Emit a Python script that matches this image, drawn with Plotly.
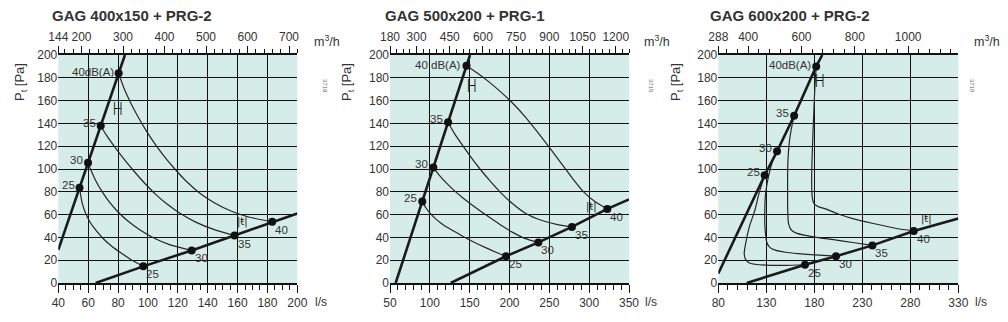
import plotly.graph_objects as go

# ---------------- DATA ----------------
TITLES = ["GAG 400x150 + PRG-2", "GAG 500x200 + PRG-1", "GAG 600x200 + PRG-2"]
CODES = ["3719", "3715", "3718"]
DB_LABELS_UP = ["25", "30", "35", "40dB(A)"]
DB_LABELS_UP_P2 = ["25", "30", "35", "40 dB(A)"]
DB_LABELS_LOW = ["25", "30", "35", "40"]

Y_RANGE = [0, 200]

# Panel 1
P1_X_RANGE = [40, 200]
P1_TOP_RANGE = [144, 720]
P1_TOP_TICKS = [144, 200, 300, 400, 500, 600, 700]
P1_UPPER_Q = [40, 54.2, 59.9, 68.4, 80.4, 84.6]
P1_UPPER_P = [29, 83.5, 105.4, 138, 184, 200]
P1_LOWER_Q = [65, 96.9, 129.3, 158, 183.2, 200]
P1_LOWER_P = [0, 14.6, 28.6, 41.6, 53.7, 61]
P1_C25_Q = [54.2, 56, 58, 61, 65, 70, 76, 83, 90, 96.9]
P1_C25_P = [83.5, 70, 62, 54, 46.5, 39, 32, 25.5, 19.5, 14.6]
P1_C30_Q = [59.9, 62, 65, 69, 74, 80, 87, 95, 104, 114, 129.3]
P1_C30_P = [105.4, 98.4, 90, 80.8, 71.3, 62.3, 53.9, 46.3, 39.5, 33.9, 28.6]
P1_C35_Q = [68.4, 72, 78, 84, 91, 98, 105, 113, 122, 132, 144, 158]
P1_C35_P = [138, 130.1, 118.9, 108.6, 97.6, 87.3, 78, 69, 60.7, 53.4, 47, 41.6]
P1_C40_Q = [80.4, 84, 88.5, 93, 98.5, 104, 110.5, 118, 126, 135, 145, 156, 168, 183.2]
P1_C40_P = [184, 170.8, 157.9, 146.7, 134.3, 123.3, 111.7, 100, 88.8, 78.6, 70, 62.9, 57.7, 53.7]
P1_SYM_UP = [79.3, 153.5]
P1_SYM_LOW = [163.6, 53.3]

# Panel 2
P2_X_RANGE = [50, 350]
P2_TOP_RANGE = [180, 1260]
P2_TOP_TICKS = [180, 300, 450, 600, 750, 900, 1050, 1200]
P2_UPPER_Q = [57.1, 90.5, 104.4, 122.9, 146, 150.4]
P2_UPPER_P = [0, 71.6, 101.4, 141, 190.6, 200]
P2_LOWER_Q = [126.2, 195.6, 236.2, 278.4, 322.8, 350]
P2_LOWER_P = [0, 23.5, 35.6, 49.2, 65, 73.3]
P2_C25_Q = [90.5, 95, 100, 107, 115, 125, 140, 155, 170, 183, 195.6]
P2_C25_P = [71.6, 66, 61.5, 56.5, 52, 47.5, 41.5, 36, 31, 27, 23.5]
P2_C30_Q = [104.4, 112, 120, 130, 142, 156, 172, 188, 204, 220, 236.2]
P2_C30_P = [101.4, 94.4, 88.2, 81.5, 74.4, 66.9, 58.9, 51.3, 44.4, 38.9, 35.6]
P2_C35_Q = [122.9, 131, 141.8, 152, 163, 175, 188, 204, 221.6, 240, 259, 278.4]
P2_C35_P = [141, 131, 120, 110, 100, 90, 80, 69.5, 60.5, 55, 51.5, 49.2]
P2_C40_Q = [146, 160, 175, 190, 205, 220, 235, 250, 265, 280, 293, 308, 322.8]
P2_C40_P = [190.6, 184, 176, 167, 157, 145.5, 132.5, 119, 105, 91, 80, 71, 65]
P2_SYM_UP = [152.5, 173.9]
P2_SYM_LOW = [303.2, 66.8]

# Panel 3
P3_X_RANGE = [80, 330]
P3_TOP_RANGE = [288, 1188]
P3_TOP_TICKS = [288, 400, 600, 800, 1000]
P3_UPPER_Q = [80, 128.3, 141.2, 159, 182, 188.3]
P3_UPPER_P = [8.3, 94.5, 115.5, 146.7, 190, 200]
P3_LOWER_Q = [109.6, 170.3, 202.6, 240.5, 283.6, 330]
P3_LOWER_P = [0, 16, 23.5, 33, 45.7, 56.6]
P3_C25_Q = [128.3, 122.4, 118.2, 112.3, 108.5, 107, 108.5, 112, 120, 135, 150, 170.3]
P3_C25_P = [94.5, 78.6, 64, 49.3, 34.7, 26, 20.5, 17.8, 16.2, 15.5, 15.4, 16]
P3_C30_Q = [141.2, 137, 133.9, 131, 129, 128.4, 128.6, 130.4, 134, 140, 150, 163.3, 180.7, 202.6]
P3_C30_P = [115.5, 108, 99, 88, 76, 62, 49.3, 36, 31, 28.6, 27, 25.8, 24.6, 23.5]
P3_C35_Q = [159, 156, 153.8, 152.6, 152.2, 152.2, 152.3, 153.2, 156, 162, 180.7, 200, 220, 240.5]
P3_C35_P = [146.7, 135, 122, 108, 95, 80, 64, 52, 46.5, 43.5, 40.3, 38, 35.5, 33]
P3_C40_Q = [182, 180.8, 180, 179, 178, 177.4, 177.3, 177.8, 179.5, 184, 191, 205, 220, 241.5, 265.8, 283.6]
P3_C40_P = [190, 175, 160.7, 140, 117, 100, 85, 76, 70, 67, 65.2, 60.5, 56.5, 52.2, 47.8, 45.7]
P3_SYM_UP = [185.9, 178.3]
P3_SYM_LOW = [296.4, 55.8]

# ---------------- STYLE ----------------
FONT = "Liberation Sans, Arial, sans-serif"
BG = "#d6ece8"
INK = "#111111"
TXT = "#333333"
W, H = 1008, 322
X_DOM = [[58.3 / W, 297.3 / W], [390 / W, 629 / W], [718.3 / W, 958.3 / W]]
Y_DOM = [1 - 283 / H, 1 - 55 / H]
TOP_DOM = [1 - 54.9 / H, 1 - 54.75 / H]

panels = [
    dict(xr=P1_X_RANGE, xdt=20, xminor=5, tr=P1_TOP_RANGE, tt=P1_TOP_TICKS, tminor=20,
         up=(P1_UPPER_Q, P1_UPPER_P), low=(P1_LOWER_Q, P1_LOWER_P),
         curves=[(P1_C25_Q, P1_C25_P), (P1_C30_Q, P1_C30_P), (P1_C35_Q, P1_C35_P), (P1_C40_Q, P1_C40_P)],
         sym=(P1_SYM_UP, P1_SYM_LOW), labels=DB_LABELS_UP, tx=132, ylab=21, unit=312, code=325),
    dict(xr=P2_X_RANGE, xdt=50, xminor=10, tr=P2_TOP_RANGE, tt=P2_TOP_TICKS, tminor=30,
         up=(P2_UPPER_Q, P2_UPPER_P), low=(P2_LOWER_Q, P2_LOWER_P),
         curves=[(P2_C25_Q, P2_C25_P), (P2_C30_Q, P2_C30_P), (P2_C35_Q, P2_C35_P), (P2_C40_Q, P2_C40_P)],
         sym=(P2_SYM_UP, P2_SYM_LOW), labels=DB_LABELS_UP_P2, tx=465, ylab=348, unit=642, code=651),
    dict(xr=P3_X_RANGE, xdt=50, xminor=10, tr=P3_TOP_RANGE, tt=P3_TOP_TICKS, tminor=40,
         up=(P3_UPPER_Q, P3_UPPER_P), low=(P3_LOWER_Q, P3_LOWER_P),
         curves=[(P3_C25_Q, P3_C25_P), (P3_C30_Q, P3_C30_P), (P3_C35_Q, P3_C35_P), (P3_C40_Q, P3_C40_P)],
         sym=(P3_SYM_UP, P3_SYM_LOW), labels=DB_LABELS_UP, tx=790, ylab=677, unit=972, code=972),
]

fig = go.Figure()
layout = dict(width=W, height=H, margin=dict(l=0, r=0, t=0, b=0, autoexpand=False),
              paper_bgcolor="white", plot_bgcolor=BG, showlegend=False,
              font=dict(family=FONT, size=12, color=TXT))
annotations = []

for i, p in enumerate(panels):
    n = i + 1
    xb = "x" if n == 1 else f"x{n}"
    yb = "y" if n == 1 else f"y{n}"
    xt = f"x{n + 3}"
    yt = f"y{n + 3}"
    xb_key = "xaxis" if n == 1 else f"xaxis{n}"
    yb_key = "yaxis" if n == 1 else f"yaxis{n}"
    xt_key = f"xaxis{n + 3}"
    yt_key = f"yaxis{n + 3}"

    layout[xb_key] = dict(domain=X_DOM[i], anchor=yb, range=p["xr"], tick0=p["xr"][0], dtick=p["xdt"],
                          showgrid=True, gridcolor=INK, gridwidth=1.3, zeroline=False,
                          showline=True, linecolor=INK, linewidth=1.5,
                          ticks="outside", ticklen=8, tickwidth=1, tickcolor=INK,
                          minor=dict(tick0=p["xr"][0], dtick=p["xminor"], ticks="outside", ticklen=5,
                                     tickwidth=1, tickcolor=INK, showgrid=False),
                          tickfont=dict(size=12, color=TXT), fixedrange=True)
    layout[yb_key] = dict(domain=list(Y_DOM), anchor=xb, range=list(Y_RANGE), dtick=20,
                          showgrid=True, gridcolor=INK, gridwidth=1.3)
    layout[xt_key] = dict(domain=X_DOM[i], anchor=yt, side="top", range=p["tr"], tickmode="array",
                          tickvals=p["tt"], showgrid=False, zeroline=False,
                          showline=True, linecolor=INK, linewidth=1.5,
                          ticks="outside", ticklen=7, tickwidth=1, tickcolor=INK,
                          minor=dict(tick0=0, dtick=p["tminor"], ticks="outside", ticklen=4,
                                     tickwidth=1, tickcolor=INK, showgrid=False),
                          tickfont=dict(size=12, color=TXT), fixedrange=True)
    layout[yt_key] = dict(domain=TOP_DOM, anchor=xt, range=[0, 1], visible=False,
                          showgrid=False, zeroline=False, fixedrange=True)
    fig.add_trace(go.Scatter(x=[p["tr"][0]], y=[0], xaxis=xt, yaxis=yt, mode="markers",
                             marker=dict(opacity=0), hoverinfo="skip", showlegend=False))

    for cq, cp in p["curves"]:
        fig.add_trace(go.Scatter(x=cq, y=cp, xaxis=xb, yaxis=yb, mode="lines",
                                 line=dict(color="#262626", width=1.2, shape="spline", smoothing=0.6),
                                 hoverinfo="skip", showlegend=False))
    for lq, lp in (p["up"], p["low"]):
        fig.add_trace(go.Scatter(x=lq, y=lp, xaxis=xb, yaxis=yb, mode="lines",
                                 line=dict(color="#1a1a1a", width=2.6),
                                 hoverinfo="skip", showlegend=False))
        fig.add_trace(go.Scatter(x=lq[1:5], y=lp[1:5], xaxis=xb, yaxis=yb, mode="markers",
                                 marker=dict(color="#111111", size=8),
                                 hoverinfo="skip", showlegend=False))

    uq, up_ = p["up"]
    lq, lp = p["low"]
    for k in range(4):
        annotations.append(dict(x=uq[k + 1], y=up_[k + 1], xref=xb, yref=yb, text=p["labels"][k],
                                showarrow=False, xanchor="right", yanchor="middle",
                                xshift=-3, yshift=1 if k == 3 else 3,
                                font=dict(size=11.5, color=TXT)))
        annotations.append(dict(x=lq[k + 1], y=lp[k + 1], xref=xb, yref=yb, text=DB_LABELS_LOW[k],
                                showarrow=False, xanchor="left", yanchor="middle",
                                xshift=1, yshift=-8, font=dict(size=11.5, color=TXT)))
    su, sl = p["sym"]
    annotations.append(dict(x=su[0], y=su[1], xref=xb, yref=yb, text="├┤", showarrow=False,
                            font=dict(size=11, color=INK, family="DejaVu Sans Mono")))
    annotations.append(dict(x=sl[0], y=sl[1], xref=xb, yref=yb, text="|ŧ|", showarrow=False,
                            font=dict(size=10, color=INK, family="DejaVu Sans")))

    annotations.append(dict(x=p["tx"] / W, y=1 - 15 / H, xref="paper", yref="paper",
                            text=f"<b>{TITLES[i]}</b>", showarrow=False, xanchor="center",
                            yanchor="middle", font=dict(size=15, color=TXT)))
    annotations.append(dict(x=p["ylab"] / W, y=1 - 82 / H, xref="paper", yref="paper",
                            text="P<sub>t</sub> [Pa]", textangle=-90, showarrow=False,
                            xanchor="center", yanchor="middle", font=dict(size=13, color=TXT)))
    annotations.append(dict(x=p["unit"] / W, y=1 - 41 / H, xref="paper", yref="paper",
                            text="m<sup>3</sup>/h", showarrow=False, xanchor="left",
                            yanchor="middle", font=dict(size=12.5, color=TXT)))
    annotations.append(dict(x=(p["unit"] + 1) / W, y=1 - 302 / H, xref="paper", yref="paper",
                            text="l/s", showarrow=False, xanchor="left",
                            yanchor="middle", font=dict(size=12, color=TXT)))
    annotations.append(dict(x=p["code"] / W, y=1 - 86 / H, xref="paper", yref="paper",
                            text=CODES[i], textangle=90, showarrow=False, xanchor="center",
                            yanchor="middle", font=dict(size=6, color="#666666")))

layout["annotations"] = annotations
fig.update_layout(**layout)
fig.write_html("out.html")
